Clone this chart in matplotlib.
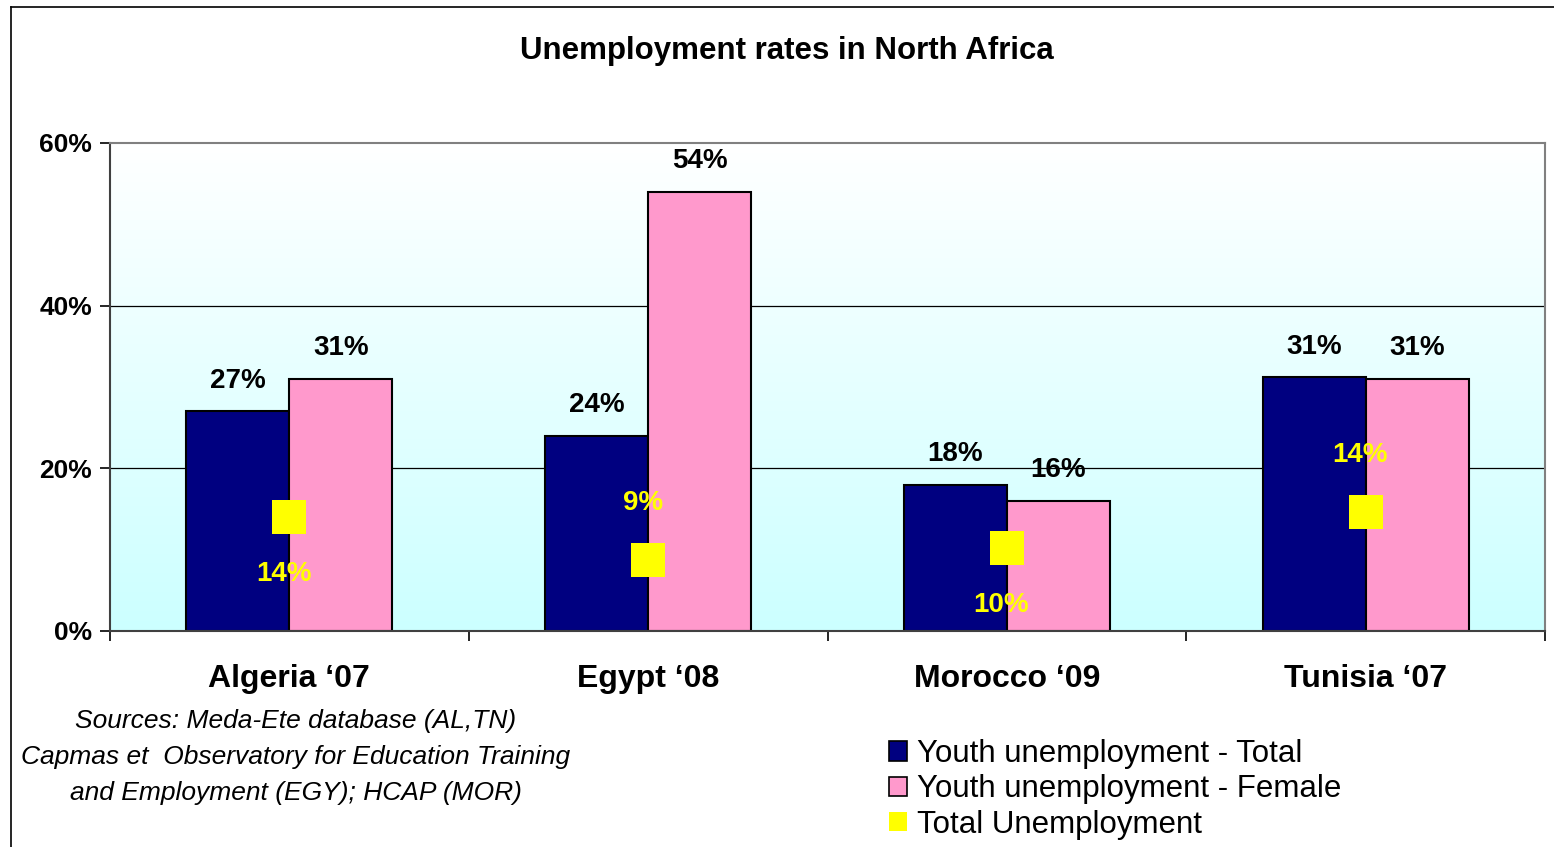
import matplotlib
matplotlib.use("Agg")
import matplotlib.pyplot as plt
import numpy as np
from matplotlib.patches import Patch
from matplotlib.lines import Line2D

categories = ["Algeria \u201807", "Egypt \u201808", "Morocco \u201809", "Tunisia \u201807"]
youth_total = [27, 24, 18, 31.2]
youth_female = [31, 54, 16, 31]
total_unemp = [14, 8.7, 10.2, 14.6]
youth_total_labels = ["27%", "24%", "18%", "31%"]
youth_female_labels = ["31%", "54%", "16%", "31%"]
total_labels = ["14%", "9%", "10%", "14%"]
total_label_side = [-1, 1, -1, 1]  # below / above the marker
yticks = [0, 20, 40, 60]
ytick_labels = ["0%", "20%", "40%", "60%"]
series_names = ["Youth unemployment - Total", "Youth unemployment - Female", "Total Unemployment"]

NAVY = "#000080"
PINK = "#FF99CC"
YELLOW = "#FFFF00"
FONT = "Liberation Sans"

W, H = 1554, 847
fig = plt.figure(figsize=(W / 100, H / 100), dpi=100)
fig.patch.set_facecolor("white")

# outer chart border (top and left visible)
fig.add_artist(Line2D([11 / W, 11 / W], [0, 1 - 7 / H], color="black", lw=1.2, transform=fig.transFigure))
fig.add_artist(Line2D([11 / W, 1], [1 - 7 / H, 1 - 7 / H], color="black", lw=1.2, transform=fig.transFigure))

left, right, top, bottom = 110, 1545, 143, 631
ax = fig.add_axes([left / W, 1 - bottom / H, (right - left) / W, (bottom - top) / H])

x = np.arange(len(categories))
bw = 0.287

ax.set_xlim(-0.5, len(categories) - 0.5)
ax.set_ylim(0, 60)

# gradient background
grad = np.linspace(0, 1, 256).reshape(-1, 1)
top_c = np.array([1.0, 1.0, 1.0])
bot_c = np.array([204, 255, 255]) / 255
img = top_c[None, None, :] * (1 - grad[:, :, None]) + bot_c[None, None, :] * grad[:, :, None]
ax.imshow(img, extent=(-0.5, len(categories) - 0.5, 0, 60), aspect="auto", origin="upper", zorder=0)

for yv in [20, 40]:
    ax.axhline(yv, color="black", lw=0.9, zorder=1)

ax.bar(x - bw / 2, youth_total, width=bw, color=NAVY, edgecolor="black", lw=1.5, zorder=2)
ax.bar(x + bw / 2, youth_female, width=bw, color=PINK, edgecolor="black", lw=1.5, zorder=2)
ax.plot(x, total_unemp, linestyle="none", marker="s", markersize=24, color=YELLOW, markeredgewidth=0, zorder=3)

for i in range(len(categories)):
    ax.annotate(youth_total_labels[i], (x[i] - bw / 2, youth_total[i]), xytext=(0, 22), textcoords="offset points",
                ha="center", va="center", fontsize=20, fontweight="bold", family=FONT, zorder=4)
    ax.annotate(youth_female_labels[i], (x[i] + bw / 2, youth_female[i]), xytext=(0, 22), textcoords="offset points",
                ha="center", va="center", fontsize=20, fontweight="bold", family=FONT, zorder=4)
    ax.annotate(total_labels[i], (x[i], total_unemp[i]), xytext=(-4, 41 * total_label_side[i]), textcoords="offset points",
                ha="center", va="center", fontsize=20, fontweight="bold", color=YELLOW, family=FONT, zorder=4)

# spines
for s in ["top", "right"]:
    ax.spines[s].set_color("#808080")
    ax.spines[s].set_linewidth(1.5)
ax.spines["left"].set_color("#404040")
ax.spines["left"].set_linewidth(1.5)
ax.spines["bottom"].set_color("#404040")
ax.spines["bottom"].set_linewidth(1.5)

ax.set_yticks(yticks)
ax.set_yticklabels(ytick_labels, fontsize=19, fontweight="bold", family=FONT)
ax.tick_params(axis="y", direction="out", length=7, width=1.2, pad=6)

ax.set_xticks(x)
ax.set_xticklabels(categories, fontsize=23, fontweight="bold", family=FONT)
ax.tick_params(axis="x", which="major", length=0, pad=24)
ax.set_xticks(np.arange(-0.5, len(categories)), minor=True)
ax.tick_params(axis="x", which="minor", direction="out", length=7, width=1.2)

fig.text(787 / W, 1 - 51 / H, "Unemployment rates in North Africa", ha="center", va="center",
         fontsize=22.5, fontweight="bold", family=FONT)

src_lines = ["Sources: Meda-Ete database (AL,TN)",
             "Capmas et  Observatory for Education Training",
             "and Employment (EGY); HCAP (MOR)"]
for j, line in enumerate(src_lines):
    fig.text(296 / W, 1 - (721 + 36 * j) / H, line, ha="center", va="center", fontsize=19,
             style="italic", family=FONT)

handles = [Patch(facecolor=NAVY, edgecolor="black", lw=1.2),
           Patch(facecolor=PINK, edgecolor="black", lw=1.2),
           Patch(facecolor=YELLOW, edgecolor="none")]
leg = fig.legend(handles, series_names, loc="upper left", bbox_to_anchor=(889 / W, 1 - 739 / H),
                 frameon=False, prop={"family": FONT, "size": 22.5},
                 handlelength=0.58, handleheight=0.58, handletextpad=0.3, labelspacing=0.17,
                 borderaxespad=0, borderpad=0)

fig.savefig("out.png", dpi=100)
